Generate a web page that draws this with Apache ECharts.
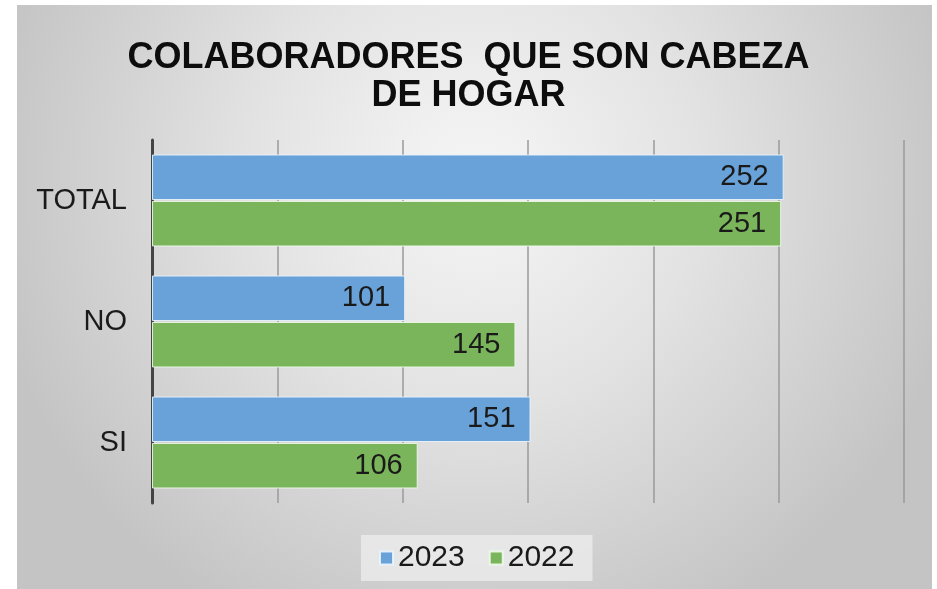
<!DOCTYPE html>
<html><head><meta charset="utf-8">
<script src="https://cdn.jsdelivr.net/npm/echarts@6/dist/echarts.min.js"></script>
<style>html,body{margin:0;padding:0;background:#fff}#c{width:937px;height:589px}</style>
</head><body><div id="c"></div>
<script>
const titleText = 'COLABORADORES  QUE SON CABEZA\nDE HOGAR';
const categories = ['SI', 'NO', 'TOTAL'];
const seriesNames = ['2023', '2022'];
const values2023 = [151, 101, 252];
const values2022 = [106, 145, 251];
const axisMin = 0, axisMax = 300, axisStep = 50;

const chart = echarts.init(document.getElementById('c'), null, {renderer: 'canvas'});
const font = 'Liberation Sans, Arial, sans-serif';
chart.setOption({
  animation: false,
  graphic: [{
    type: 'rect', z: -10, silent: true,
    shape: {x: 17, y: 5, width: 915, height: 584},
    style: {fill: new echarts.graphic.RadialGradient(0.5, 0.3, 0.85, [
      {offset: 0, color: '#f6f6f6'}, {offset: 0.45, color: '#e3e3e3'}, {offset: 1, color: '#c4c4c4'}])}
  }],
  title: {
    text: titleText, left: 'center', top: 34,
    textStyle: {fontFamily: font, fontWeight: 'bold', fontSize: 36, lineHeight: 38, color: '#0d0d0d'}
  },
  legend: {
    data: seriesNames, bottom: 8, left: 361,
    itemWidth: 13, itemHeight: 13, itemGap: 24,
    padding: [8, 18], backgroundColor: 'rgba(238,238,238,0.75)',
    textStyle: {fontFamily: font, fontSize: 30, color: '#1a1a1a'},
    icon: 'rect'
  },
  grid: {left: 152, right: 33, top: 140, bottom: 86, containLabel: false},
  xAxis: {
    type: 'value', min: axisMin, max: axisMax, interval: axisStep,
    axisLabel: {show: false}, axisTick: {show: false}, axisLine: {show: false},
    splitLine: {show: true, lineStyle: {color: '#9a9a9a', width: 1.5}}
  },
  yAxis: {
    type: 'category', data: categories,
    axisLine: {show: true, lineStyle: {color: '#444', width: 3}},
    axisTick: {show: false},
    axisLabel: {fontFamily: font, fontSize: 29, color: '#1a1a1a', margin: 25}
  },
  series: [
    {name: '2023', type: 'bar', data: values2023, barGap: '2%', barCategoryGap: '24%',
     itemStyle: {color: '#68a2d9', borderColor: 'rgba(235,244,252,0.9)', borderWidth: 1},
     label: {show: true, position: 'insideRight', distance: 15, fontFamily: font, fontSize: 29, color: '#1a1a1a'}},
    {name: '2022', type: 'bar', data: values2022,
     itemStyle: {color: '#7ab55b', borderColor: 'rgba(240,250,235,0.9)', borderWidth: 1},
     label: {show: true, position: 'insideRight', distance: 15, fontFamily: font, fontSize: 29, color: '#1a1a1a'}}
  ]
});
</script></body></html>
